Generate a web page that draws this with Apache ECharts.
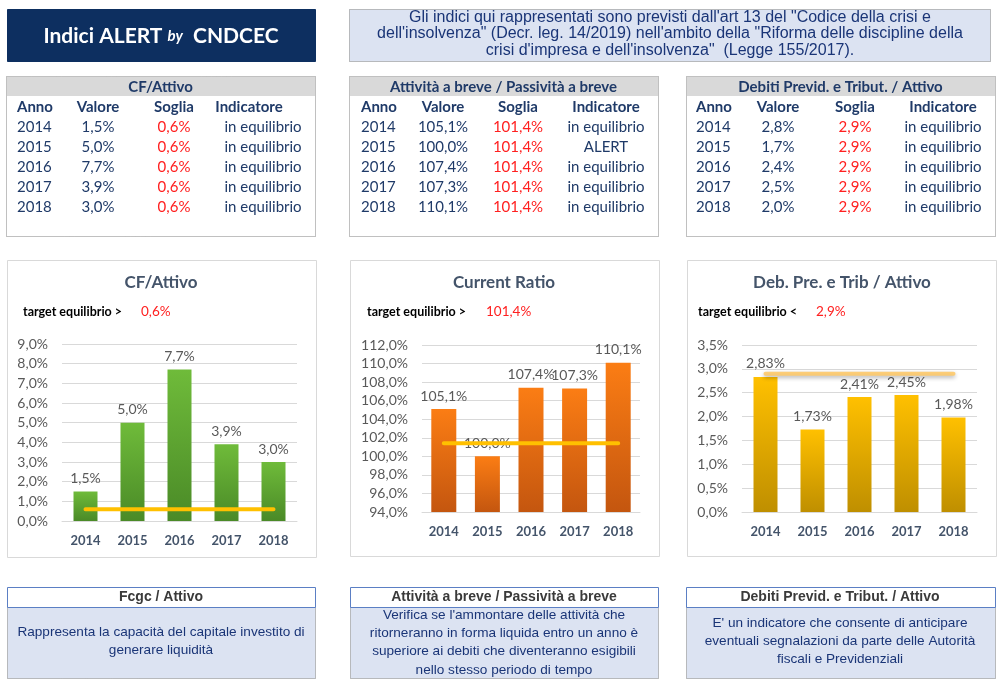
<!DOCTYPE html>
<html><head><meta charset="utf-8">
<script src="https://cdn.jsdelivr.net/npm/echarts@6/dist/echarts.min.js"></script>
<style>html,body{margin:0;padding:0;background:#fff;}#c{width:1000px;height:684px;}</style>
</head><body><div id="c"></div>
<script>
// ---------- DATA ----------
const years = ['2014', '2015', '2016', '2017', '2018'];
const cfValues = [1.5, 5.0, 7.7, 3.9, 3.0];
const cfThreshold = [0.6, 0.6, 0.6, 0.6, 0.6];
const crValues = [105.1, 100.0, 107.4, 107.3, 110.1];
const crThreshold = [101.4, 101.4, 101.4, 101.4, 101.4];
const debValues = [2.83, 1.73, 2.41, 2.45, 1.98];
const debThreshold = [2.9, 2.9, 2.9, 2.9, 2.9];
const cfStatus = ['in equilibrio', 'in equilibrio', 'in equilibrio', 'in equilibrio', 'in equilibrio'];
const crStatus = ['in equilibrio', 'ALERT', 'in equilibrio', 'in equilibrio', 'in equilibrio'];
const debStatus = ['in equilibrio', 'in equilibrio', 'in equilibrio', 'in equilibrio', 'in equilibrio'];
const tableHeaders = ['Anno', 'Valore', 'Soglia', 'Indicatore'];
const tableTitles = ['CF/Attivo', 'Attività a breve / Passività a breve', 'Debiti Previd. e Tribut. / Attivo'];
const chartTitles = ['CF/Attivo', 'Current Ratio', 'Deb. Pre. e Trib / Attivo'];
const targetLabels = ['target equilibrio >', 'target equilibrio >', 'target equilibrio <'];
const boxTitles = ['Fcgc / Attivo', 'Attività a breve / Passività a breve', 'Debiti Previd. e Tribut. / Attivo'];
const boxTexts = [
  'Rappresenta la capacità del capitale investito di\ngenerare liquidità',
  "Verifica se l'ammontare delle attività che\nritorneranno in forma liquida entro un anno è\nsuperiore ai debiti che diventeranno esigibili\nnello stesso periodo di tempo",
  "E' un indicatore che consente di anticipare\neventuali segnalazioni da parte delle Autorità\nfiscali e Previdenziali"
];
const infoText = 'Gli indici qui rappresentati sono previsti dall\'art 13 del "Codice della crisi e\ndell\'insolvenza" (Decr. leg. 14/2019) nell\'ambito della "Riforma delle discipline della\ncrisi d\'impresa e dell\'insolvenza"  (Legge 155/2017).';

// ---------- HELPERS ----------
function fmt(v, d) { return v.toFixed(d).replace('.', ',') + '%'; }
const CAL = 'Lato, "Open Sans", sans-serif';
const TAH = '"Liberation Sans", Arial, sans-serif';
const BLUE = '#1f3a68';
function txt(x, y, text, o) {
  o = o || {};
  return {
    type: 'text', x: x, y: y, silent: true, z: 10,
    style: {
      text: text,
      fill: o.fill || BLUE,
      fontSize: o.size || 13,
      fontFamily: o.family || CAL,
      fontWeight: o.weight || 'normal',
      fontStyle: o.style || 'normal',
      align: o.align || 'left', textAlign: o.align || 'left',
      verticalAlign: 'middle', textVerticalAlign: 'middle',
      lineHeight: o.lh || undefined,
      rich: o.rich
    }
  };
}
function rect(x, y, w, h, fill, stroke, dash, z) {
  return {
    type: 'rect', silent: true, z: z === undefined ? 1 : z,
    shape: { x: x + 0.5, y: y + 0.5, width: w, height: h },
    style: { fill: fill || 'none', stroke: stroke || 'none', lineWidth: 1, lineDash: dash || null }
  };
}

const g = [];
// Title box
g.push(rect(7, 9, 308, 52, '#0d2f60', '#0d2f60'));
g.push({
  type: 'text', x: 161, y: 36, silent: true, z: 10,
  style: {
    text: '{a|Indici ALERT }{b|by}{a|  CNDCEC}',
    align: 'center', textAlign: 'center', verticalAlign: 'middle', textVerticalAlign: 'middle',
    rich: {
      a: { fill: '#ffffff', fontSize: 21, fontWeight: 'bold', fontFamily: CAL },
      b: { fill: '#ffffff', fontSize: 15, fontWeight: 'bold', fontStyle: 'italic', fontFamily: CAL }
    }
  }
});
// Info box
g.push(rect(349, 9, 641, 52, '#dce3f2', '#808080', [1, 1]));
g.push(txt(670, 34, infoText, { align: 'center', family: TAH, size: 16, lh: 16.5, fill: '#1a3577' }));

// Tables
const tables = [
  { x: 6, w: 309, anno: 17, val: 98, sog: 174, indH: 249, indD: 263, vals: cfValues, thr: cfThreshold, st: cfStatus, d: 1 },
  { x: 349, w: 309, anno: 361, val: 443, sog: 518, indH: 606, indD: 606, vals: crValues, thr: crThreshold, st: crStatus, d: 1 },
  { x: 686, w: 309, anno: 696, val: 778, sog: 855, indH: 943, indD: 943, vals: debValues, thr: debThreshold, st: debStatus, d: 1 }
];
const TS = 15;
tables.forEach(function (t, i) {
  g.push(rect(t.x, 76, t.w, 160, '#ffffff', '#808080', [1, 1]));
  g.push({ type: 'rect', silent: true, z: 2, shape: { x: t.x + 1, y: 77, width: t.w - 1, height: 19 }, style: { fill: '#d9d9d9' } });
  g.push(txt(t.x + t.w / 2, 87, tableTitles[i], { align: 'center', weight: 'bold', size: 15 }));
  g.push(txt(t.anno, 107, tableHeaders[0], { weight: 'bold', size: TS }));
  g.push(txt(t.val, 107, tableHeaders[1], { weight: 'bold', size: TS, align: 'center' }));
  g.push(txt(t.sog, 107, tableHeaders[2], { weight: 'bold', size: TS, align: 'center' }));
  g.push(txt(t.indH, 107, tableHeaders[3], { weight: 'bold', size: TS, align: 'center' }));
  years.forEach(function (yr, r) {
    const yy = 127 + r * 20;
    g.push(txt(t.anno, yy, yr, { size: TS }));
    g.push(txt(t.val, yy, fmt(t.vals[r], t.d), { size: TS, align: 'center' }));
    g.push(txt(t.sog, yy, fmt(t.thr[r], t.d), { size: TS, align: 'center', fill: '#ff2020' }));
    g.push(txt(t.indD, yy, t.st[r], { size: TS, align: 'center' }));
  });
});

// Chart panels
const panels = [
  { x: 7, w: 309, h: 297, tc: 161, tx: 23, vx: 141, v: fmt(cfThreshold[0], 1) },
  { x: 350, w: 309, h: 296, tc: 504, tx: 367, vx: 486, v: fmt(crThreshold[0], 1) },
  { x: 687, w: 309, h: 296, tc: 842, tx: 698, vx: 816, v: fmt(debThreshold[0], 1) }
];
panels.forEach(function (p, i) {
  g.push(rect(p.x, 260, p.w, p.h, 'none', '#d9d9d9', null, -10));
  g.push(txt(p.tc, 283, chartTitles[i], { align: 'center', weight: 'bold', size: 17, fill: '#44546a' }));
  g.push(txt(p.tx, 312, targetLabels[i], { weight: 'bold', size: 12.5, fill: '#000000' }));
  g.push(txt(p.vx, 312, p.v, { size: 13.5, fill: '#ff2020' }));
});

// Bottom boxes
const boxes = [
  { x: 7, w: 308, c: 161, first: 632 },
  { x: 350, w: 308, c: 504, first: 615 },
  { x: 686, w: 309, c: 840, first: 623 }
];
boxes.forEach(function (b, i) {
  g.push(rect(b.x, 607, b.w, 71, '#dce3f2', '#808080', [1, 1]));
  g.push(rect(b.x, 587, b.w, 20, '#ffffff', '#5b7fc4'));
  g.push(txt(b.c, 597, boxTitles[i], { align: 'center', weight: 'bold', family: TAH, size: 14, fill: '#3a3a3a' }));
  const n = boxTexts[i].split('\n').length;
  const lh = 18.3;
  const mid = b.first + (n - 1) * lh / 2;
  g.push(txt(b.c, mid, boxTexts[i], { align: 'center', family: TAH, size: 13.6, lh: lh, fill: '#1a3577' }));
});

// ---------- CHARTS ----------
function grad(top, bottom) {
  return new echarts.graphic.LinearGradient(0, 0, 0, 1, [{ offset: 0, color: top }, { offset: 1, color: bottom }]);
}
function xAx(gi) {
  return {
    type: 'category', gridIndex: gi, data: years,
    axisTick: { show: false }, axisLine: { lineStyle: { color: '#d9d9d9' } },
    axisLabel: { color: '#44546a', fontWeight: 'bold', fontSize: 13, fontFamily: CAL, margin: 13 }
  };
}
function yAx(gi, min, max, interval, dec) {
  return {
    type: 'value', gridIndex: gi, min: min, max: max, interval: interval,
    axisLine: { show: false }, axisTick: { show: false },
    splitLine: { lineStyle: { color: '#d9d9d9' } },
    axisLabel: { margin: 14, color: '#595959', fontSize: 14, fontFamily: CAL, formatter: function (v) { return fmt(v, dec); } }
  };
}
function barS(i, data, dec, top, bottom, bw) {
  return {
    type: 'bar', xAxisIndex: i, yAxisIndex: i, data: data, barWidth: bw,
    itemStyle: { color: grad(top, bottom) },
    label: { show: true, position: 'top', distance: 6, color: '#595959', fontSize: 14, fontFamily: CAL,
      formatter: function (p) { return fmt(p.value, dec); } },
    z: 2
  };
}
function lineS(i, data, color, shadow) {
  return {
    type: 'line', xAxisIndex: i, yAxisIndex: i, data: data, symbol: 'none', silent: true,
    lineStyle: Object.assign({ color: color, width: 4, cap: 'round' }, shadow ? { shadowColor: 'rgba(0,0,0,0.35)', shadowBlur: 4, shadowOffsetY: 2 } : {}),
    z: 3
  };
}

const option = {
  animation: false,
  backgroundColor: '#ffffff',
  graphic: { elements: g },
  grid: [
    { left: 62, top: 344, width: 235, height: 177 },
    { left: 422, top: 345, width: 218, height: 167 },
    { left: 742, top: 345, width: 235, height: 167 }
  ],
  xAxis: [xAx(0), xAx(1), xAx(2)],
  yAxis: [yAx(0, 0, 9, 1, 1), yAx(1, 94, 112, 2, 1), yAx(2, 0, 3.5, 0.5, 1)],
  series: [
    barS(0, cfValues, 1, '#6fbb3a', '#4a8a27', 24),
    lineS(0, cfThreshold, '#ffc000', false),
    barS(1, crValues, 1, '#fb7d14', '#c4560f', 25),
    lineS(1, crThreshold, '#ffc000', false),
    barS(2, debValues, 2, '#ffc000', '#bf8f00', 24),
    lineS(2, debThreshold, 'rgba(255,200,100,0.85)', true)
  ]
};
const chart = echarts.init(document.getElementById('c'), null, { renderer: 'canvas' });
chart.setOption(option);
</script>
</body></html>
